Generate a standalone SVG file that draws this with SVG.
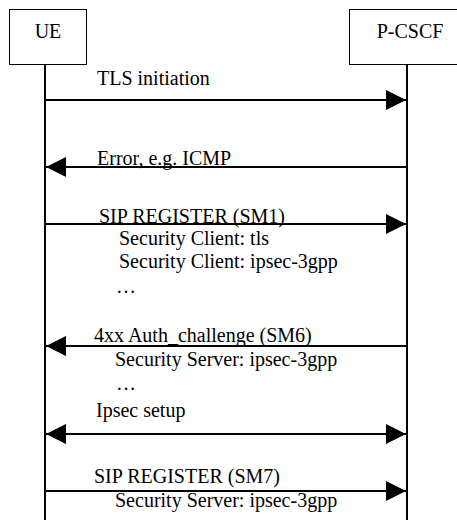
<svg xmlns="http://www.w3.org/2000/svg" width="457" height="528" viewBox="0 0 457 528">
<style>
text{font-family:"Liberation Serif","Times New Roman",serif;font-size:20px;fill:#000}
.box{fill:#fff;stroke:#000;stroke-width:1}
.life{stroke:#000;stroke-width:2;fill:none}
.msg{stroke:#000;stroke-width:2;fill:none}
</style>
<defs>
<marker id="ah" markerWidth="20" markerHeight="20" refX="20" refY="10" orient="auto-start-reverse" markerUnits="userSpaceOnUse" viewBox="0 0 20 20">
<path d="M0,0 L20,10 L0,20 Z" fill="#000"/>
</marker>
</defs>
<g id="ue">
<rect class="box" x="9.5" y="9.5" width="77" height="55"/>
<text x="48" y="38" text-anchor="middle">UE</text>
<line class="life" x1="45" y1="65" x2="45" y2="520"/>
</g>
<g id="pcscf">
<rect class="box" x="349.5" y="9.5" width="108" height="55"/>
<text x="410" y="38" text-anchor="middle">P-CSCF</text>
<line class="life" x1="407" y1="65" x2="407" y2="520"/>
</g>
<g id="connectors">
<line class="msg" x1="45" y1="100" x2="406" y2="100" marker-end="url(#ah)"/>
<line class="msg" x1="407" y1="167" x2="46" y2="167" marker-end="url(#ah)"/>
<line class="msg" x1="45" y1="224" x2="406" y2="224" marker-end="url(#ah)"/>
<line class="msg" x1="407" y1="346" x2="46" y2="346" marker-end="url(#ah)"/>
<line class="msg" x1="46" y1="434" x2="406" y2="434" marker-start="url(#ah)" marker-end="url(#ah)"/>
<line class="msg" x1="45" y1="491" x2="406" y2="491" marker-end="url(#ah)"/>
</g>
<g id="labels">
<text x="97" y="85">TLS initiation</text>
<text x="97" y="165">Error, e.g. ICMP</text>
<text x="99" y="223">SIP REGISTER (SM1)</text>
<text x="119" y="245">Security Client: tls</text>
<text x="119" y="268">Security Client: ipsec-3gpp</text>
<text x="116" y="293">…</text>
<text x="94" y="342">4xx Auth_challenge (SM6)</text>
<text x="115" y="366">Security Server: ipsec-3gpp</text>
<text x="116" y="390">…</text>
<text x="96" y="417">Ipsec setup</text>
<text x="94" y="483">SIP REGISTER (SM7)</text>
<text x="115" y="507">Security Server: ipsec-3gpp</text>
</g>
</svg>
